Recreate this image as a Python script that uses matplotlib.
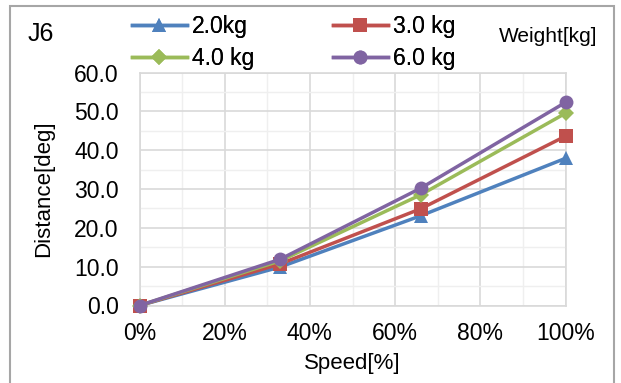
import matplotlib.pyplot as plt
from matplotlib.patches import Rectangle
from matplotlib.ticker import MultipleLocator, PercentFormatter

plt.rcParams['font.family'] = ['Liberation Sans', 'DejaVu Sans']

speed = [0, 33, 66, 100]
w2 = [0.0, 9.9, 23.1, 37.9]
w3 = [0.0, 10.7, 24.9, 43.6]
w4 = [0.0, 11.5, 28.5, 49.5]
w6 = [0.0, 11.9, 30.2, 52.3]

series = [
    ('2.0kg', w2, '#4F81BD', '^'),
    ('3.0 kg', w3, '#C0504D', 's'),
    ('4.0 kg', w4, '#9BBB59', 'D'),
    ('6.0 kg', w6, '#8064A2', 'o'),
]

fig = plt.figure(figsize=(6.21, 3.83), dpi=100)
ax = fig.add_axes([139.5 / 621, 1 - 305.5 / 383, 426 / 621, 233 / 383])

handles = []
for label, vals, color, mk in series:
    ms = 10 if mk != 'D' else 8
    h, = ax.plot(speed, vals, color=color, lw=2.5, marker=mk, ms=ms,
                 markeredgewidth=0, label=label, clip_on=False, zorder=3)
    handles.append(h)

ax.set_xlim(0, 100)
ax.set_ylim(0, 60)
ax.xaxis.set_major_locator(MultipleLocator(20))
ax.xaxis.set_minor_locator(MultipleLocator(10))
ax.yaxis.set_major_locator(MultipleLocator(10))
ax.yaxis.set_minor_locator(MultipleLocator(5))
ax.xaxis.set_major_formatter(PercentFormatter(decimals=0))
ax.yaxis.set_major_formatter(lambda v, p: f'{v:.1f}')
ax.grid(which='major', color='#D9D9D9', lw=1.2)
ax.grid(which='minor', color='#EFEFEF', lw=1.0)
ax.set_axisbelow(True)
for s in ax.spines.values():
    s.set_color('#D9D9D9')
    s.set_linewidth(1.2)
ax.tick_params(which='both', length=0, labelsize=16.5)
ax.tick_params(axis='y', pad=15)
ax.tick_params(axis='x', pad=12)
ax.set_xlabel('Speed[%]', fontsize=16, labelpad=6)
ax.set_ylabel('Distance[deg]', fontsize=16, labelpad=14)

fig.text(28 / 621, 1 - 34 / 383, 'J6', fontsize=18, va='center', ha='left')
fig.text(597 / 621, 1 - 37 / 383, 'Weight[kg]', fontsize=15, va='center', ha='right')

# two legend columns, anchored at the start of each line
cols = [([handles[0], handles[2]], ['2.0kg', '4.0 kg'], 131.7),
        ([handles[1], handles[3]], ['3.0 kg', '6.0 kg'], 332.7)]
for hs, labs, x0 in cols:
    leg = fig.legend(handles=hs, labels=labs, loc='center left',
                     bbox_to_anchor=(x0 / 621, 1 - 42.5 / 383),
                     frameon=False, fontsize=16.5, handlelength=2.4,
                     handletextpad=0.22, labelspacing=0.4,
                     borderaxespad=0, borderpad=0)
    fig.add_artist(leg)

fig.patches.append(Rectangle((9.5 / 621, -0.05), 604.5 / 621, 1.05 - 6.5 / 383,
                             transform=fig.transFigure, fill=False,
                             edgecolor='#A6A6A6', lw=1.5))

fig.savefig('out.png', dpi=100)
